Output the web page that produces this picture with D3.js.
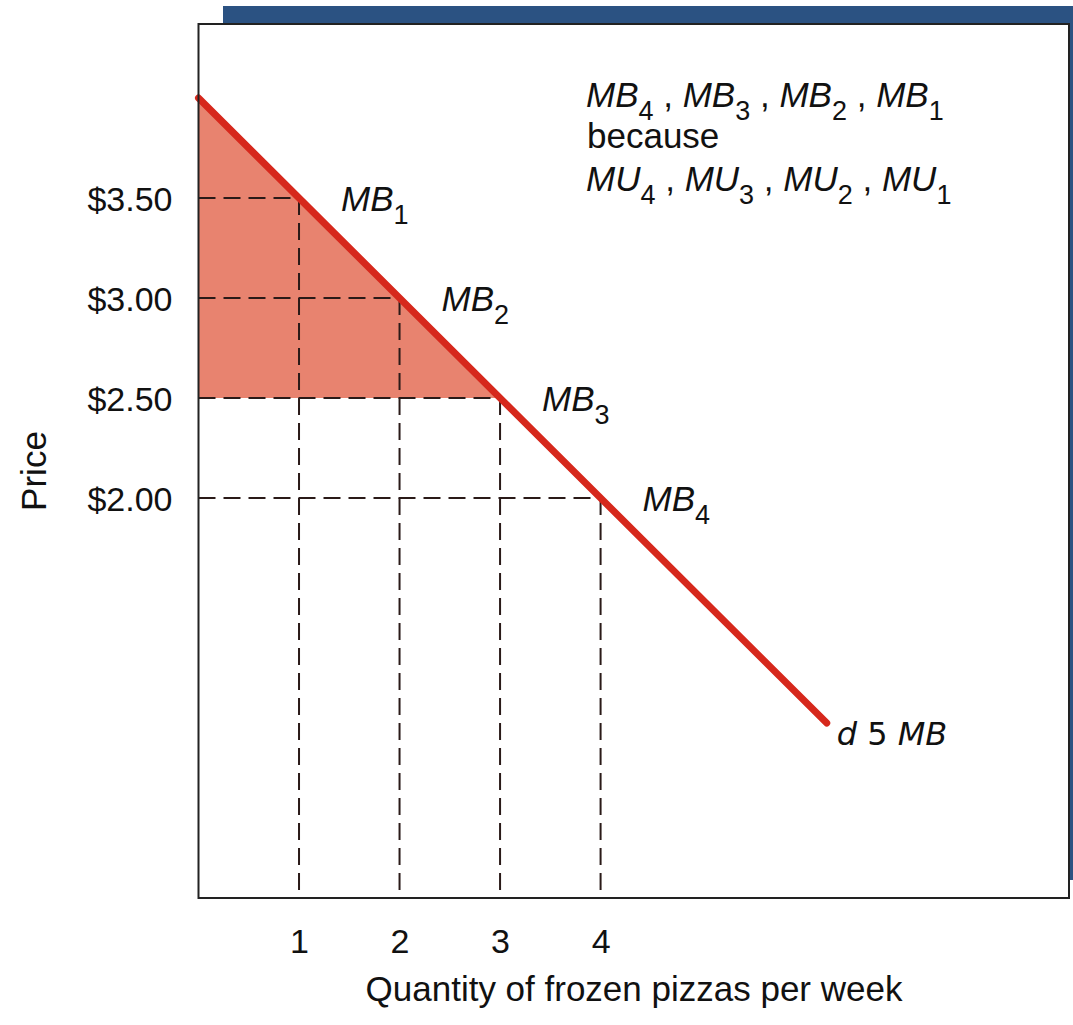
<!DOCTYPE html>
<html>
<head>
<meta charset="utf-8">
<script src="https://cdn.jsdelivr.net/npm/d3@7"></script>
<style>
  html, body { margin: 0; padding: 0; background: #fff; }
  svg { display: block; }
  text { font-family: "Liberation Sans", Arial, sans-serif; fill: #111; }
</style>
</head>
<body>
<svg id="chart" width="1073" height="1025"></svg>
<script>
// Marginal benefit points (quantity, price)
const quantities = [1, 2, 3, 4];
const prices = [3.50, 3.00, 2.50, 2.00];
const mbLabels = ["1", "2", "3", "4"];

// Demand (= marginal benefit) curve end points
const demandQ = [0, 6.25];
const demandP = [4.00, 0.875];

// Shaded consumer surplus region
const surplusQ = [0, 3, 0];
const surplusP = [4.00, 2.50, 2.50];

// Axis ticks
const priceTicks = [3.50, 3.00, 2.50, 2.00];
const priceTickLabels = ["$3.50", "$3.00", "$2.50", "$2.00"];
const qtyTicks = [1, 2, 3, 4];

const svg = d3.select("#chart");

const x = d3.scaleLinear().domain([0, 8.66]).range([198.5, 1069]);
const y = d3.scaleLinear().domain([0, 4.37]).range([898, 24]);

// Blue backing panel
svg.append("rect")
  .attr("x", 223).attr("y", 6)
  .attr("width", 850).attr("height", 874)
  .attr("fill", "#2b5282");

// White plot panel
svg.append("rect")
  .attr("x", x(0)).attr("y", y(4.37))
  .attr("width", x(8.66) - x(0)).attr("height", y(0) - y(4.37))
  .attr("fill", "#fff");

// Shaded area
svg.append("path")
  .datum(surplusQ.map((q, i) => [q, surplusP[i]]))
  .attr("d", d3.line().x(d => x(d[0])).y(d => y(d[1])).curve(d3.curveLinearClosed))
  .attr("fill", "#e8836f");

// Dashed guide lines
const guides = svg.append("g")
  .attr("stroke", "#2a1a18")
  .attr("stroke-width", 2)
  .attr("stroke-dasharray", "17,8")
  .attr("fill", "none");

quantities.forEach((q, i) => {
  guides.append("line")
    .attr("x1", x(0)).attr("x2", x(q))
    .attr("y1", y(prices[i])).attr("y2", y(prices[i]));
  guides.append("line")
    .attr("x1", x(q)).attr("x2", x(q))
    .attr("y1", y(prices[i])).attr("y2", y(0));
});

// Demand curve
svg.append("path")
  .datum(demandQ.map((q, i) => [q, demandP[i]]))
  .attr("d", d3.line().x(d => x(d[0])).y(d => y(d[1])))
  .attr("stroke", "#d6281c")
  .attr("stroke-width", 7)
  .attr("stroke-linecap", "round")
  .attr("fill", "none");

// Plot frame
svg.append("rect")
  .attr("x", x(0)).attr("y", y(4.37))
  .attr("width", x(8.66) - x(0)).attr("height", y(0) - y(4.37))
  .attr("fill", "none")
  .attr("stroke", "#222")
  .attr("stroke-width", 2);

// Y axis labels
const yAxis = d3.axisLeft(y)
  .tickValues(priceTicks)
  .tickFormat((d, i) => priceTickLabels[i])
  .tickSize(0)
  .tickPadding(26);
const gy = svg.append("g").attr("transform", `translate(${x(0)},0)`).call(yAxis);
gy.attr("font-size", null).attr("font-family", null);
gy.select(".domain").remove();
gy.selectAll("text")
  .attr("dy", "0.36em")
  .style("font-size", "34px")
  .style("font-family", "Liberation Sans, Arial, sans-serif")
  .attr("fill", "#111");

// X axis labels
const xAxis = d3.axisBottom(x)
  .tickValues(qtyTicks)
  .tickFormat(d3.format("d"))
  .tickSize(0)
  .tickPadding(31);
const gx = svg.append("g").attr("transform", `translate(0,${y(0)})`).call(xAxis);
gx.attr("font-size", null).attr("font-family", null);
gx.select(".domain").remove();
gx.selectAll("text")
  .style("font-size", "34px")
  .style("font-family", "Liberation Sans, Arial, sans-serif")
  .attr("fill", "#111");

// Axis titles
svg.append("text")
  .attr("transform", `translate(46,471) rotate(-90)`)
  .attr("text-anchor", "middle")
  .style("font-size", "35px")
  .text("Price");

svg.append("text")
  .attr("x", 634).attr("y", 1001)
  .attr("text-anchor", "middle")
  .style("font-size", "35px")
  .text("Quantity of frozen pizzas per week");

// MB point labels
quantities.forEach((q, i) => {
  const t = svg.append("text")
    .attr("x", x(q) + 42)
    .attr("y", y(prices[i]) + 13)
    .style("font-size", "35px");
  t.append("tspan").attr("font-style", "italic").text("MB");
  t.append("tspan").style("font-size", "27px").attr("dy", 13).text(mbLabels[i]);
});

// Ordering note
function orderLine(yPos, base) {
  const t = svg.append("text").attr("x", 586).attr("y", yPos).style("font-size", "35px");
  ["4", "3", "2", "1"].forEach((s, i) => {
    t.append("tspan").attr("font-style", "italic").text(base);
    t.append("tspan").style("font-size", "27px").attr("dy", 13).text(s);
    t.append("tspan").attr("dy", -13).text(i < 3 ? " , " : "");
  });
}
orderLine(107, "MB");
svg.append("text").attr("x", 587).attr("y", 148).style("font-size", "35px").text("because");
orderLine(191, "MU");

// Curve label
const dl = svg.append("text")
  .attr("x", x(demandQ[1]) + 10)
  .attr("y", y(demandP[1]) + 22)
  .style("font-size", "32px")
  .style("font-family", "DejaVu Sans, sans-serif");
dl.append("tspan").attr("font-style", "italic").text("d");
dl.append("tspan").text(" 5 ");
dl.append("tspan").attr("font-style", "italic").text("MB");
</script>
</body>
</html>
